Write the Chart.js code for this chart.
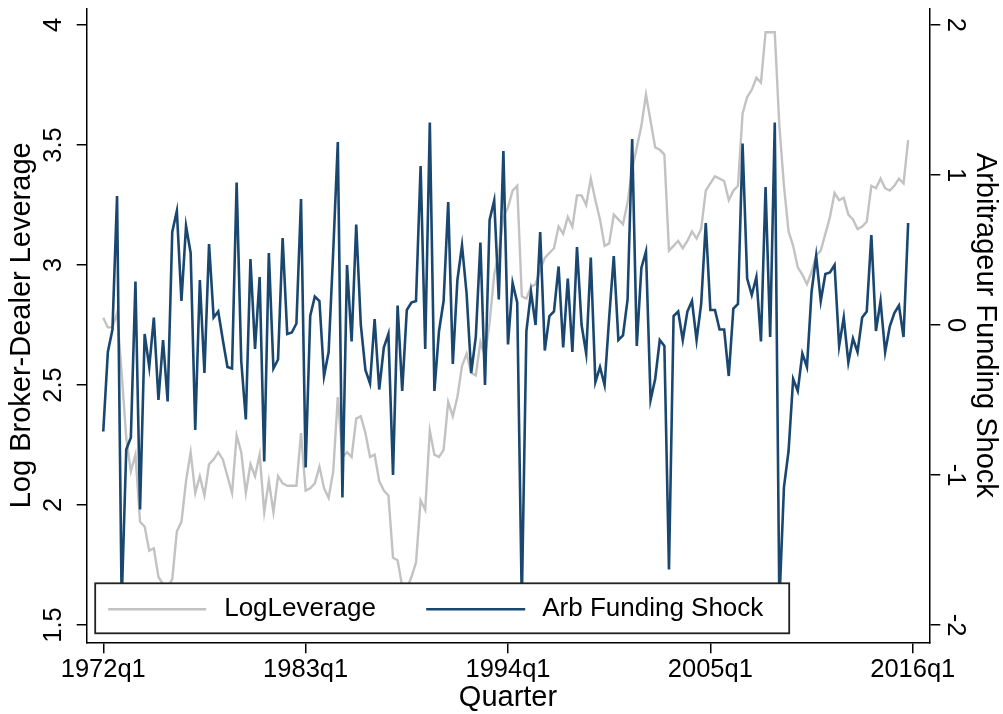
<!DOCTYPE html>
<html>
<head>
<meta charset="utf-8">
<script src="https://cdn.jsdelivr.net/npm/chart.js@4.4.1/dist/chart.umd.min.js"></script>
<style>
  html, body { margin: 0; padding: 0; background: #fff; }
  #wrap { width: 1003px; height: 714px; position: relative; }
</style>
</head>
<body>
<div id="wrap"><canvas id="c"></canvas></div>
<script>
// ---- data (quarterly, first quarter = 1972q1) ----
const startYear = 1972;
const quarterTickIndex = [0, 44, 88, 132, 176];
const quarterTickLabels = ['1972q1', '1983q1', '1994q1', '2005q1', '2016q1'];
const leftTicks = [1.5, 2, 2.5, 3, 3.5, 4];
const leftTickLabels = ['1.5', '2', '2.5', '3', '3.5', '4'];
const rightTicks = [-2, -1, 0, 1, 2];
const rightTickLabels = ['-2', '-1', '0', '1', '2'];

// LogLeverage, 1972q1-1982q4
const levA = [2.78,2.74,2.74,2.80,2.55,2.28,2.14,2.21,1.93,1.91,
  1.81,1.82,1.70,1.67,1.66,1.69,1.89,1.93,2.10,2.22,
  2.05,2.12,2.04,2.17,2.19,2.22,2.19,2.12,2.05,2.29,
  2.22,2.05,2.17,2.12,2.21,1.97,2.10,1.97,2.12,2.09,
  2.08,2.08,2.08,2.30];
// 1983q1-1993q4
const levB = [2.06,2.07,2.09,2.16,2.07,2.03,2.14,2.45,2.20,2.22,
  2.20,2.36,2.37,2.30,2.20,2.21,2.10,2.06,2.04,1.78,
  1.77,1.66,1.65,1.70,1.76,2.02,1.98,2.31,2.21,2.20,
  2.23,2.43,2.37,2.45,2.58,2.63,2.55,2.54,2.68,2.62,
  2.76,2.96,3.05,3.20];
// 1994q1-2004q4
const levC = [3.24,3.31,3.33,2.87,2.86,2.91,2.92,2.98,3.03,3.05,
  3.07,3.16,3.13,3.20,3.16,3.29,3.29,3.25,3.36,3.27,
  3.19,3.08,3.09,3.21,3.19,3.17,3.26,3.40,3.49,3.58,
  3.71,3.60,3.49,3.48,3.46,3.06,3.08,3.10,3.07,3.10,
  3.14,3.11,3.15,3.31];
// 2005q1-2015q4
const levD = [3.34,3.37,3.36,3.35,3.27,3.31,3.33,3.63,3.70,3.73,
  3.78,3.76,3.97,3.97,3.97,3.58,3.33,3.14,3.08,2.99,
  2.96,2.92,2.97,3.04,3.06,3.13,3.20,3.30,3.27,3.28,
  3.21,3.19,3.15,3.16,3.18,3.33,3.32,3.36,3.32,3.31,
  3.33,3.36,3.34,3.52];

// Arb Funding Shock, 1972q1-1982q4
const arbA = [-0.71,-0.18,-0.03,0.86,-1.85,-0.83,-0.75,0.29,-1.23,-0.06,
  -0.28,0.05,-0.50,-0.10,-0.51,0.62,0.76,0.16,0.66,0.48,
  -0.70,0.30,-0.32,0.54,0.05,0.09,-0.10,-0.28,-0.29,0.95,
  -0.24,-0.63,0.44,-0.16,0.32,-0.91,0.48,-0.29,-0.23,0.58,
  -0.06,-0.05,0.01,0.84];
// 1983q1-1993q4
const arbB = [-0.95,0.06,0.19,0.16,-0.34,-0.18,0.49,1.22,-1.15,0.40,
  -0.11,0.67,0.00,-0.30,-0.39,0.04,-0.43,-0.15,-0.06,-1.00,
  0.13,-0.44,0.10,0.15,0.16,1.06,-0.16,1.35,-0.44,-0.04,
  0.16,0.82,-0.26,0.30,0.53,0.21,-0.32,-0.08,0.55,-0.40,
  0.70,0.83,0.17,1.16];
// 1994q1-2004q4
const arbC = [-0.13,0.28,0.15,-1.85,-0.04,0.22,0.00,0.62,-0.17,0.06,
  0.09,0.39,-0.15,0.31,-0.18,0.52,0.00,-0.19,0.45,-0.38,
  -0.28,-0.40,0.05,0.46,-0.10,-0.07,0.17,1.24,-0.14,0.38,
  0.49,-0.50,-0.36,-0.10,-0.14,-1.63,0.06,0.09,-0.10,0.09,
  0.16,-0.10,0.14,0.68];
// 2005q1-2015q4
const arbD = [0.10,0.10,-0.03,-0.03,-0.34,0.11,0.14,1.21,0.31,0.20,
  0.32,-0.11,0.92,-0.08,1.35,-1.85,-1.08,-0.84,-0.36,-0.44,
  -0.19,-0.28,0.22,0.46,0.16,0.34,0.35,0.40,-0.14,0.05,
  -0.25,-0.09,-0.18,0.05,0.09,0.60,-0.04,0.16,-0.18,-0.01,
  0.08,0.13,-0.08,0.68];

const logLeverage = levA.concat(levB, levC, levD);
const arbShock = arbA.concat(arbB, arbC, arbD);
const toPoints = arr => arr.map((v, i) => ({ x: i, y: v }));

const FONT = '"Liberation Sans", Arial, Helvetica, sans-serif';

const stataDecor = {
  id: 'stataDecor',
  afterDraw(chart) {
    const { ctx, chartArea: a, scales } = chart;
    ctx.save();
    ctx.fillStyle = '#000';
    ctx.textAlign = 'center';
    ctx.textBaseline = 'middle';
    ctx.font = '25.5px ' + FONT;
    // x tick labels
    scales.x.ticks.forEach((t, i) => {
      ctx.fillText(quarterTickLabels[i], scales.x.getPixelForValue(t.value), a.bottom + 28);
    });
    // left tick labels (rotated)
    scales.yL.ticks.forEach((t, i) => {
      ctx.save();
      ctx.translate(a.left - 33, scales.yL.getPixelForValue(t.value));
      ctx.rotate(-Math.PI / 2);
      ctx.fillText(leftTickLabels[i], 0, 0);
      ctx.restore();
    });
    // right tick labels (rotated)
    scales.yR.ticks.forEach((t, i) => {
      ctx.save();
      ctx.translate(a.right + 26, scales.yR.getPixelForValue(t.value));
      ctx.rotate(Math.PI / 2);
      ctx.fillText(rightTickLabels[i], 0, 0);
      ctx.restore();
    });
    // axis titles
    ctx.font = '29px ' + FONT;
    const midY = (a.top + a.bottom) / 2;
    ctx.fillText('Quarter', (a.left + a.right) / 2, a.bottom + 56);
    ctx.save();
    ctx.translate(22, midY);
    ctx.rotate(-Math.PI / 2);
    ctx.fillText('Log Broker-Dealer Leverage', 0, 0);
    ctx.restore();
    ctx.save();
    ctx.translate(985, midY);
    ctx.rotate(Math.PI / 2);
    ctx.fillText('Arbitrageur Funding Shock', 0, 0);
    ctx.restore();

    // legend box
    const bx = a.left + 8.5, by = a.bottom - 59, bw = 694, bh = 50;
    ctx.fillStyle = '#fff';
    ctx.fillRect(bx, by, bw, bh);
    ctx.strokeStyle = '#222';
    ctx.lineWidth = 1.8;
    ctx.strokeRect(bx, by, bw, bh);
    const ds = chart.data.datasets;
    const entries = [
      { d: ds[0], x0: bx + 13, x1: bx + 111, tx: bx + 129 },
      { d: ds[1], x0: bx + 331, x1: bx + 430, tx: bx + 447 }
    ];
    ctx.font = '26px ' + FONT;
    ctx.textAlign = 'left';
    entries.forEach(e => {
      ctx.strokeStyle = e.d.borderColor;
      ctx.lineWidth = e.d.borderWidth;
      ctx.beginPath();
      ctx.moveTo(e.x0, by + bh / 2 + 1);
      ctx.lineTo(e.x1, by + bh / 2 + 1);
      ctx.stroke();
      ctx.fillStyle = '#000';
      ctx.fillText(e.d.label, e.tx, by + bh / 2 + 1);
    });
    ctx.restore();
  }
};

const axisCommon = {
  grid: { display: true, drawOnChartArea: false, drawTicks: true, tickLength: 10, color: '#000', lineWidth: 1.5 },
  border: { display: true, color: '#000', width: 1.5 },
  ticks: { display: false }
};

new Chart(document.getElementById('c'), {
  type: 'line',
  data: {
    datasets: [
      { label: 'LogLeverage', data: toPoints(logLeverage), yAxisID: 'yL', borderColor: '#c2c2c2', borderWidth: 2.4, pointRadius: 0, tension: 0, order: 2 },
      { label: 'Arb Funding Shock', data: toPoints(arbShock), yAxisID: 'yR', borderColor: '#1a476f', borderWidth: 2.6, pointRadius: 0, tension: 0, order: 1 }
    ]
  },
  options: {
    responsive: true,
    maintainAspectRatio: false,
    animation: false,
    layout: { padding: { top: 8.3, left: 0, right: 0, bottom: 0 } },
    plugins: { legend: { display: false }, tooltip: { enabled: false } },
    scales: {
      x: Object.assign({}, axisCommon, {
        type: 'linear', position: 'bottom', min: -3.6, max: 179.6,
        grid: Object.assign({}, axisCommon.grid, { tickLength: 11 }),
        afterBuildTicks: s => { s.ticks = quarterTickIndex.map(v => ({ value: v })); },
        afterFit: s => { s.height = 71.7; }
      }),
      yL: Object.assign({}, axisCommon, {
        type: 'linear', position: 'left', min: 1.428, max: 4.0696,
        afterBuildTicks: s => { s.ticks = leftTicks.map(v => ({ value: v })); },
        afterFit: s => { s.width = 86.7; }
      }),
      yR: Object.assign({}, axisCommon, {
        type: 'linear', position: 'right', min: -2.115, max: 2.111,
        grid: Object.assign({}, axisCommon.grid, { tickLength: 11 }),
        afterBuildTicks: s => { s.ticks = rightTicks.map(v => ({ value: v })); },
        afterFit: s => { s.width = 73.7; }
      })
    }
  },
  plugins: [stataDecor]
});
</script>
</body>
</html>
